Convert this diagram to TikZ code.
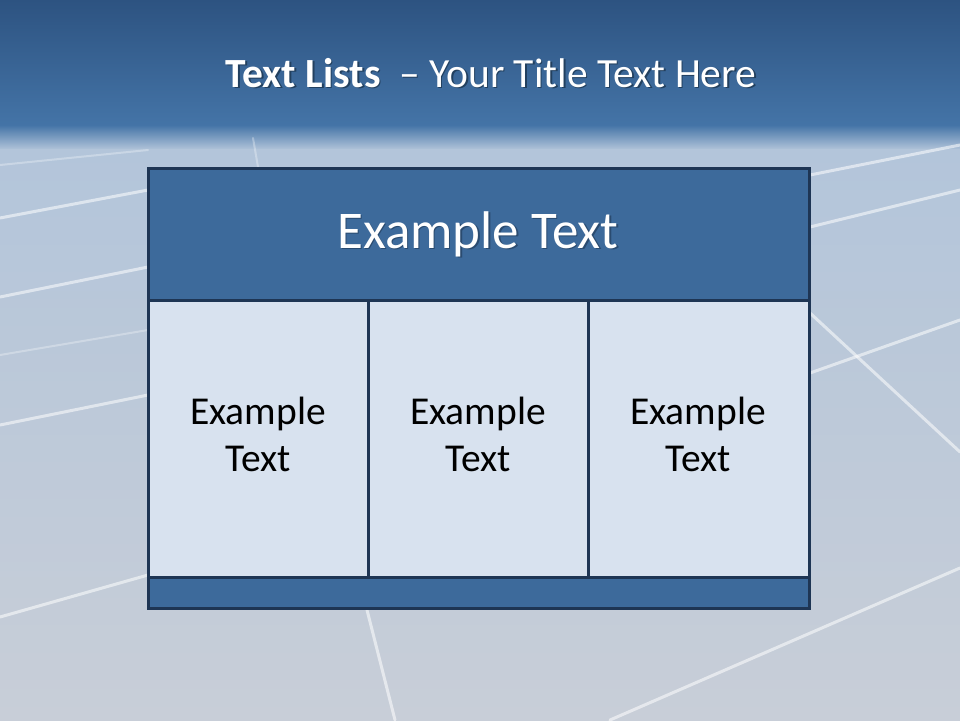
\documentclass[tikz,border=0pt]{standalone}
\usepackage{fontspec}
\setmainfont{Carlito}
\newcommand{\shadowed}[2]{\rlap{\hspace{1.5pt}\raisebox{-1.8pt}{\textcolor{#1}{#2}}}#2}
\begin{document}
\begin{tikzpicture}[x=1pt,y=-1pt,
  bgline/.style={line width=3pt,draw=white,opacity=0.55,line cap=round},
  bgfaint/.style={line width=2pt,draw=white,opacity=0.3,line cap=round},
  frame/.style={draw=boxborder,line width=3pt},
  headfill/.style={fill=headblue},
  cellfill/.style={fill=cellblue},
  whitetxt/.style={text=white,inner sep=0pt,anchor=base},
  celltxt/.style={text=black,inner sep=0pt,anchor=base,font=\fontsize{39.5}{46}\selectfont}]
\definecolor{topdark}{HTML}{2D5381}
\definecolor{topmid}{HTML}{4474A7}
\definecolor{lightblue}{HTML}{B3C5DA}
\definecolor{lightgray}{HTML}{C8CED8}
\definecolor{headblue}{HTML}{3D6A9B}
\definecolor{cellblue}{HTML}{D8E2EF}
\definecolor{boxborder}{HTML}{1E3554}
\definecolor{titleshadow}{HTML}{22405F}
\definecolor{headshadow}{HTML}{2A4B70}
\useasboundingbox (0,0) rectangle (960,720);
% background
\shade[top color=topdark,bottom color=topmid] (0,0) rectangle (960,126);
\shade[top color=topmid,bottom color=lightblue] (0,125) rectangle (960,150);
\shade[top color=lightblue,bottom color=lightgray] (0,149) rectangle (960,720);
% background grid lines
\draw[bgfaint] (0,165) -- (148,150);
\draw[bgline] (0,218) -- (148,190);
\draw[bgline] (0,297) -- (148,267);
\draw[bgfaint] (0,355) -- (148,330);
\draw[bgline] (0,425) -- (148,395);
\draw[bgline] (0,617) -- (148,575);
\draw[bgfaint] (253,138) -- (258,167);
\draw[bgline] (367,610) -- (395,720);
\draw[bgline] (810,175) -- (960,145);
\draw[bgline] (810,227) -- (960,190);
\draw[bgline] (810,313) -- (960,452);
\draw[bgline] (810,373) -- (960,320);
\draw[bgline] (610,720) -- (960,568);
% title
\node[whitetxt,font=\fontsize{41.5}{50}\selectfont] (title) at (491,87) {\shadowed{titleshadow}{\textbf{Text Lists}\ \ – Your Title Text Here}};
% box
\node[headfill,frame,minimum width=661pt,minimum height=132pt,inner sep=0pt] (header) at (478.5,234) {};
\node[cellfill,frame,minimum width=220pt,minimum height=277pt,inner sep=0pt] (c1) at (258.5,438.5) {};
\node[cellfill,frame,minimum width=220pt,minimum height=277pt,inner sep=0pt] (c2) at (478.5,438.5) {};
\node[cellfill,frame,minimum width=221pt,minimum height=277pt,inner sep=0pt] (c3) at (698.5,438.5) {};
\node[headfill,frame,minimum width=661pt,minimum height=31pt,inner sep=0pt] (bar) at (478.5,592.5) {};
% header text
\node[whitetxt,font=\fontsize{53}{62}\selectfont] (htext) at (478,248) {\shadowed{headshadow}{Example Text}};
% cell texts
\node[celltxt] (t1a) at (258,424) {Example};
\node[celltxt] (t1b) at (258,471) {Text};
\node[celltxt] (t2a) at (478,424) {Example};
\node[celltxt] (t2b) at (478,471) {Text};
\node[celltxt] (t3a) at (698,424) {Example};
\node[celltxt] (t3b) at (698,471) {Text};
\end{tikzpicture}
\end{document}
